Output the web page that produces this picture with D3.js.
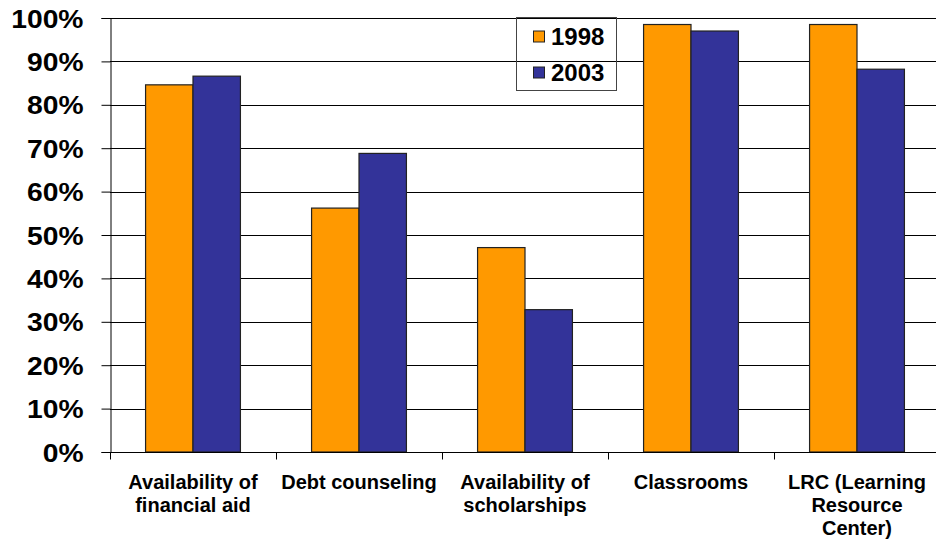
<!DOCTYPE html>
<html>
<head>
<meta charset="utf-8">
<script src="https://cdn.jsdelivr.net/npm/d3@7"></script>
<style>
  body { margin: 0; background: #fff; }
  svg { font-family: Arial, "Liberation Sans", sans-serif; font-weight: bold; }
</style>
</head>
<body>
<svg width="936" height="542"></svg>
<script>
const categories = [
  "Availability of\nfinancial aid",
  "Debt counseling",
  "Availability of\nscholarships",
  "Classrooms",
  "LRC (Learning\nResource\nCenter)"
];
const seriesNames = ["1998", "2003"];
const values1998 = [84.6, 56.2, 47.1, 98.5, 98.5];
const values2003 = [86.6, 68.8, 32.8, 97.0, 88.2];
const yTicks = [0, 10, 20, 30, 40, 50, 60, 70, 80, 90, 100];
const colors = ["#FF9900", "#333399"];

const data = categories.map((c, i) => ({ cat: c, vals: [values1998[i], values2003[i]] }));

const svg = d3.select("svg");
const plotLeft = 110, plotRight = 940, plotTop = 18, plotBottom = 452;

const x = d3.scaleBand().domain(categories).range([plotLeft, plotRight]).padding(0);
const x1 = d3.scaleBand().domain(seriesNames).range([0, x.bandwidth()]).paddingInner(0).paddingOuter(0.75);
const y = d3.scaleLinear().domain([0, 100]).range([plotBottom, plotTop]);

// grid lines
svg.append("g").selectAll("line")
  .data(yTicks.filter(t => t > 0))
  .enter().append("line")
  .attr("x1", plotLeft).attr("x2", plotRight)
  .attr("y1", d => Math.round(y(d)) + 0.5).attr("y2", d => Math.round(y(d)) + 0.5)
  .attr("stroke", "#000").attr("stroke-width", 1);

// y axis
const yAxis = svg.append("g")
  .attr("transform", `translate(${plotLeft + 0.5},0)`)
  .call(d3.axisLeft(y).tickValues(yTicks).tickFormat(d => d + "%").tickSize(9).tickPadding(18));
yAxis.select(".domain").attr("stroke", "#000");
yAxis.selectAll(".tick line").attr("stroke", "#000");
yAxis.selectAll("text")
  .attr("fill", "#000")
  .style("font-size", "25px")
  .style("font-weight", "bold")
  .attr("dy", "0.36em")
  .each(function() {
    const len = this.getComputedTextLength();
    d3.select(this).attr("textLength", len * 1.13).attr("lengthAdjust", "spacingAndGlyphs");
  });

// bars
const groups = svg.append("g").selectAll("g")
  .data(data).enter().append("g")
  .attr("transform", d => `translate(${x(d.cat)},0)`);
groups.selectAll("rect")
  .data(d => d.vals.map((v, i) => ({ s: seriesNames[i], v: v, i: i })))
  .enter().append("rect")
  .attr("x", d => x1(d.s))
  .attr("y", d => y(d.v))
  .attr("width", x1.bandwidth())
  .attr("height", d => plotBottom - y(d.v))
  .attr("fill", d => colors[d.i])
  .attr("stroke", "#222")
  .attr("stroke-width", 1.2);

// x axis
const xAxis = svg.append("g")
  .attr("transform", `translate(0,${plotBottom + 0.5})`);
xAxis.append("line").attr("x1", plotLeft).attr("x2", plotRight).attr("stroke", "#000");
const bounds = categories.map(c => x(c)).concat([plotRight]);
xAxis.selectAll(".xt").data(bounds).enter().append("line")
  .attr("class", "xt")
  .attr("x1", d => Math.round(d) + 0.5).attr("x2", d => Math.round(d) + 0.5)
  .attr("y1", 0).attr("y2", 7).attr("stroke", "#000");

const labels = svg.append("g").selectAll("text")
  .data(categories).enter().append("text")
  .attr("x", d => x(d) + x.bandwidth() / 2)
  .attr("y", 489)
  .attr("text-anchor", "middle")
  .attr("fill", "#000")
  .style("font-size", "20px");
labels.selectAll("tspan")
  .data(d => d.split("\n").map((t, i) => ({ t, i })))
  .enter().append("tspan")
  .attr("x", function() { return d3.select(this.parentNode).attr("x"); })
  .attr("dy", d => d.i === 0 ? 0 : 23)
  .text(d => d.t);

// legend
const lg = svg.append("g");
lg.append("rect")
  .attr("x", 516.5).attr("y", 17.5).attr("width", 100).attr("height", 73)
  .attr("fill", "none").attr("stroke", "#444").attr("stroke-width", 1);
seriesNames.forEach((s, i) => {
  const yy = 31 + i * 36;
  lg.append("rect").attr("x", 533.5).attr("y", yy).attr("width", 11).attr("height", 11)
    .attr("fill", colors[i]).attr("stroke", "#222");
  lg.append("text").attr("x", 551).attr("y", yy + 13.5)
    .attr("fill", "#000").style("font-size", "24px").text(s);
});
</script>
</body>
</html>
